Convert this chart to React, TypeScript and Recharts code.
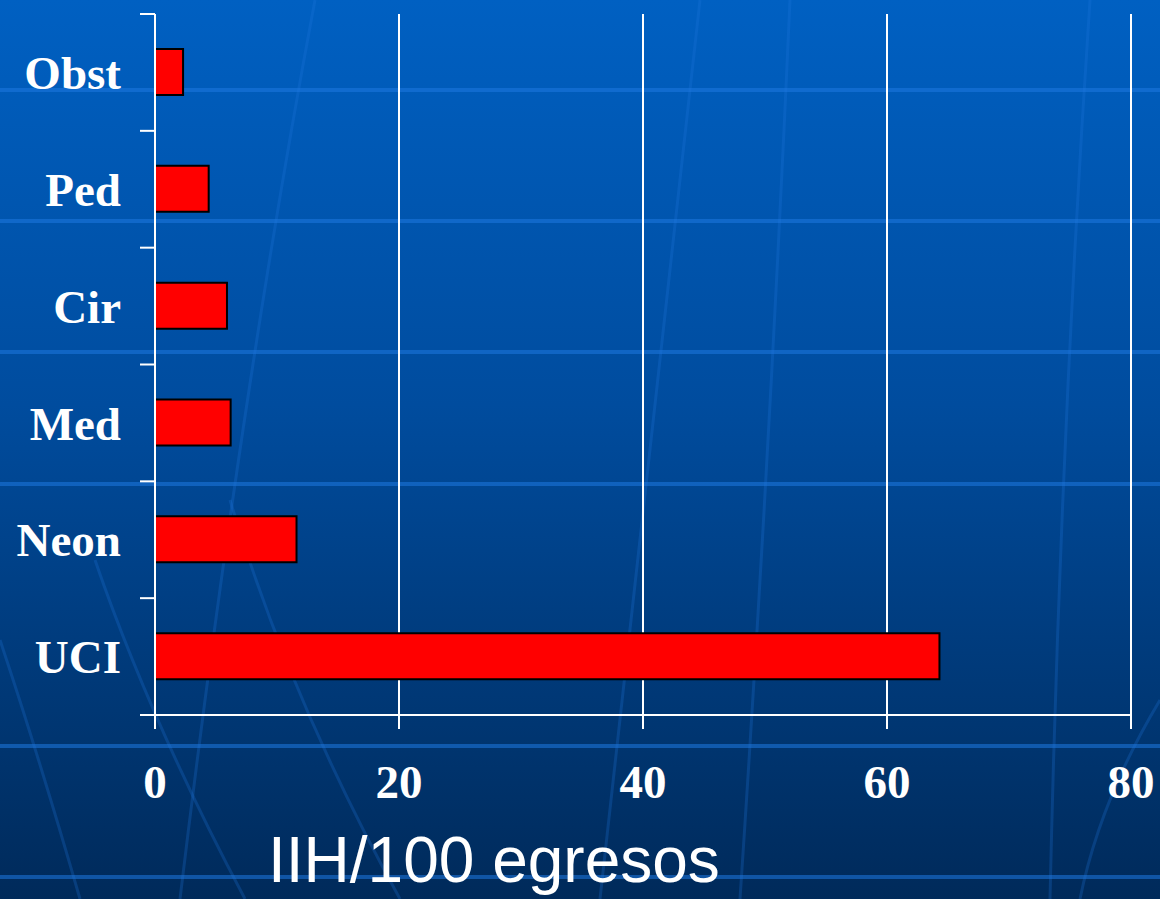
import { BarChart, Bar, XAxis, YAxis, CartesianGrid } from 'recharts';

// IIH por servicio (infecciones intrahospitalarias / 100 egresos)
const services = ['Obst', 'Ped', 'Cir', 'Med', 'Neon', 'UCI'];
const rates = [2.3, 4.4, 5.9, 6.2, 11.6, 64.3];
const xTicks = [0, 20, 40, 60, 80];

const data = services.map((name, i) => ({ name, iih: rates[i] }));

const serif = '"Liberation Serif", "Times New Roman", serif';
const LABEL_GAP = 34;

// decorative globe-like background lines
const Background = () => (
  <svg width={1160} height={899} style={{ position: 'absolute', left: 0, top: 0 }}>
    <defs>
      <linearGradient id="bg" x1="0" y1="0" x2="0" y2="1">
        <stop offset="0%" stopColor="#0060C2" />
        <stop offset="45%" stopColor="#004C9E" />
        <stop offset="100%" stopColor="#002A5A" />
      </linearGradient>
    </defs>
    <rect x={0} y={0} width={1160} height={899} fill="url(#bg)" />
    <g stroke="#1E78E0" strokeOpacity={0.55} strokeWidth={4} fill="none">
      <line x1={0} y1={90} x2={1160} y2={90} />
      <line x1={0} y1={221} x2={1160} y2={221} />
      <line x1={0} y1={352} x2={1160} y2={352} />
      <line x1={0} y1={484} x2={1160} y2={484} />
      <line x1={0} y1={746} x2={1160} y2={746} />
      <line x1={0} y1={877} x2={1160} y2={877} />
    </g>
    <g stroke="#1E78E0" strokeOpacity={0.25} strokeWidth={3} fill="none">
      <path d="M 0 640 Q 40 760 80 899" />
      <path d="M 95 560 Q 150 720 245 899" />
      <path d="M 230 500 Q 290 700 400 899" />
      <path d="M 315 0 Q 240 400 180 899" />
      <path d="M 700 0 Q 650 450 600 899" />
      <path d="M 1090 0 Q 1060 450 1050 899" />
      <path d="M 790 0 Q 770 450 740 899" />
      <path d="M 1160 700 Q 1100 800 1080 899" />
    </g>
  </svg>
);

// category label at the band centre, tick marks at the band edges (Excel style)
const ServiceTick = (props: any) => {
  const { x, y, payload, index, visibleTicksCount } = props;
  const half = payload?.offset ?? 0;
  const axisX = x + LABEL_GAP;
  const isLast = index === (visibleTicksCount ?? services.length) - 1;
  return (
    <g>
      <line x1={axisX - 15} x2={axisX} y1={y - half} y2={y - half} stroke="#FFFFFF" strokeWidth={2} />
      {isLast && (
        <line x1={axisX - 15} x2={axisX} y1={y + half} y2={y + half} stroke="#FFFFFF" strokeWidth={2} />
      )}
      <text
        x={x}
        y={y}
        dy="0.355em"
        textAnchor="end"
        fill="#FFFFFF"
        fontFamily={serif}
        fontWeight={700}
        fontSize={47}
      >
        {payload.value}
      </text>
    </g>
  );
};

export default function App() {
  return (
    <div style={{ position: 'absolute', left: 0, top: 0, width: 1160, height: 899, overflow: 'hidden' }}>
      <Background />
      <div style={{ position: 'absolute', left: 0, top: 0 }}>
        <BarChart
          width={1160}
          height={899}
          data={data}
          layout="vertical"
          margin={{ top: 14, right: 29, left: 0, bottom: 0 }}
          barCategoryGap={0}
        >
          <CartesianGrid horizontal={false} stroke="#FFFFFF" strokeWidth={2} />
          <XAxis
            type="number"
            domain={[0, 80]}
            ticks={xTicks}
            interval={0}
            height={184}
            axisLine={{ stroke: '#FFFFFF', strokeWidth: 2 }}
            tickLine={{ stroke: '#FFFFFF', strokeWidth: 2 }}
            tickSize={14}
            tickMargin={36}
            tick={{ fill: '#FFFFFF', fontFamily: serif, fontWeight: 700, fontSize: 47 }}
          />
          <YAxis
            type="category"
            dataKey="name"
            width={155}
            interval={0}
            axisLine={{ stroke: '#FFFFFF', strokeWidth: 2 }}
            tickLine={false}
            tickSize={0}
            tickMargin={LABEL_GAP}
            tick={ServiceTick}
          />
          <Bar
            dataKey="iih"
            fill="#FF0000"
            stroke="#000000"
            strokeWidth={2}
            barSize={46}
            isAnimationActive={false}
          />
        </BarChart>
      </div>
      <div
        style={{
          position: 'absolute',
          left: 268,
          top: 822,
          color: '#FFFFFF',
          fontFamily: '"Liberation Sans", Arial, sans-serif',
          fontSize: 64,
          lineHeight: '76px',
          whiteSpace: 'nowrap',
        }}
      >
        IIH/100 egresos
      </div>
    </div>
  );
}
